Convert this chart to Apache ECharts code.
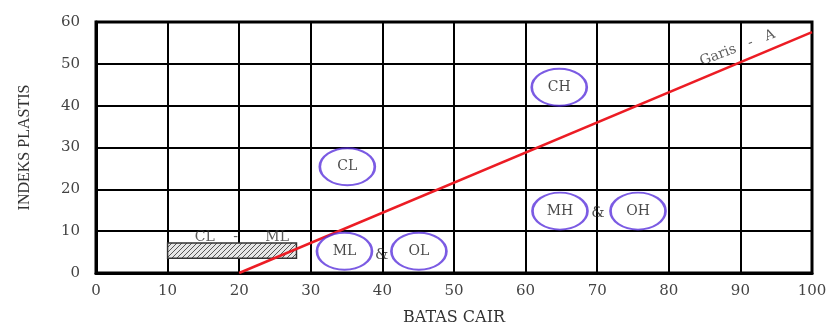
<!DOCTYPE html>
<html>
<head>
<meta charset="utf-8">
<script src="https://cdn.jsdelivr.net/npm/echarts@6/dist/echarts.min.js"></script>
<style>html,body{margin:0;padding:0;background:#fff}#c{width:840px;height:331px}</style>
</head>
<body>
<div id="c"></div>
<script>
// A-line (Garis - A)
const aLineLL = [20, 100];
const aLinePI = [0, 57.6];
// Zone labels in ellipses
const zoneNames = ['CH', 'CL', 'MH', 'OH', 'ML', 'OL'];
const zoneLL = [64.7, 35.1, 64.8, 75.7, 34.7, 45.1];
const zonePI = [44.4, 25.4, 14.8, 14.8, 5.2, 5.2];
// "&" connectors
const ampLL = [39.9, 70.1];
const ampPI = [4.3, 14.3];
// CL-ML hatched band
const hatchLL = [10, 28];
const hatchPI = [3.5, 7.2];
const hatchLabelNames = ['CL', '-', 'ML'];
const hatchLabelLL = [15.2, 19.5, 25.3];
const hatchLabelPI = [8.6, 8.6, 8.6];
// A-line label
const aLabelLL = [89.6];
const aLabelPI = [53.8];

const SERIF = '"Liberation Serif", "DejaVu Serif", serif';
const WIDE = '"DejaVu Serif", "Liberation Serif", serif';

const pat = document.createElement('canvas');
pat.width = 5; pat.height = 5;
const g = pat.getContext('2d');
g.fillStyle = '#e6e6e6'; g.fillRect(0,0,5,5);
g.strokeStyle = '#555'; g.lineWidth = 1;
g.beginPath();
g.moveTo(0,5); g.lineTo(5,0);
g.moveTo(-1,1); g.lineTo(1,-1);
g.moveTo(4,6); g.lineTo(6,4);
g.stroke();

const chart = echarts.init(document.getElementById('c'));
chart.setOption({
  animation: false,
  backgroundColor: '#fff',
  grid: { left: 96, right: 28, top: 22, bottom: 54, show: true, borderColor: '#000', borderWidth: 3, backgroundColor: 'transparent' },
  xAxis: {
    type: 'value', min: 0, max: 100, interval: 10,
    name: 'BATAS CAIR', nameLocation: 'middle', nameGap: 37,
    nameTextStyle: { fontFamily: WIDE, fontSize: 16, color: '#333' },
    axisLine: { show: true, lineStyle: { color: '#000', width: 3 } },
    axisTick: { show: false },
    axisLabel: { fontFamily: WIDE, fontSize: 15, color: '#444', margin: 11 },
    splitLine: { show: true, lineStyle: { color: '#000', width: 2 } }
  },
  yAxis: {
    type: 'value', min: 0, max: 60, interval: 10,
    name: 'INDEKS PLASTIS', nameLocation: 'middle', nameGap: 63,
    nameTextStyle: { fontFamily: SERIF, fontSize: 16, color: '#333' },
    axisLine: { show: true, lineStyle: { color: '#000', width: 3 } },
    axisTick: { show: false },
    axisLabel: { fontFamily: WIDE, fontSize: 15, color: '#444', margin: 16 },
    splitLine: { show: true, lineStyle: { color: '#000', width: 2 } }
  },
  series: [
    {
      type: 'custom',
      renderItem: function (params, api) {
        const p0 = api.coord([api.value(0), api.value(3)]);
        const p1 = api.coord([api.value(1), api.value(2)]);
        return {
          type: 'rect',
          shape: { x: p0[0], y: p0[1], width: p1[0] - p0[0], height: p1[1] - p0[1] },
          style: { fill: { image: pat, repeat: 'repeat' }, stroke: '#333', lineWidth: 1.5 }
        };
      },
      data: [[hatchLL[0], hatchLL[1], hatchPI[0], hatchPI[1]]],
      z: 3
    },
    {
      type: 'line',
      data: aLineLL.map((v, i) => [v, aLinePI[i]]),
      symbol: 'none',
      lineStyle: { color: '#ec1c24', width: 2.5 },
      z: 4
    },
    {
      type: 'scatter',
      data: zoneLL.map((v, i) => ({ value: [v, zonePI[i]], name: zoneNames[i] })),
      symbol: 'circle',
      symbolSize: [55, 37],
      itemStyle: { color: 'rgba(255,255,255,0)', borderColor: '#5a32dc', borderWidth: 2.2 },
      label: {
        show: true, position: 'inside', formatter: p => p.name,
        fontFamily: WIDE, fontSize: 14, color: '#1a1a1a'
      },
      z: 5
    },
    {
      type: 'scatter',
      data: ampLL.map((v, i) => [v, ampPI[i]]),
      symbolSize: 0,
      label: { show: true, position: 'inside', formatter: '&', fontFamily: WIDE, fontSize: 15, color: '#222' },
      z: 5
    },
    {
      type: 'scatter',
      data: hatchLabelLL.map((v, i) => ({ value: [v, hatchLabelPI[i]], name: hatchLabelNames[i] })),
      symbolSize: 0,
      label: { show: true, position: 'inside', formatter: p => p.name, fontFamily: WIDE, fontSize: 14, color: '#333' },
      z: 5
    },
    {
      type: 'scatter',
      data: aLabelLL.map((v, i) => [v, aLabelPI[i]]),
      symbolSize: 0,
      label: { show: true, position: 'inside', formatter: 'Garis   -   A', rotate: 21, fontFamily: WIDE, fontSize: 14, color: '#333' },
      z: 5
    }
  ]
});
</script>
</body>
</html>
